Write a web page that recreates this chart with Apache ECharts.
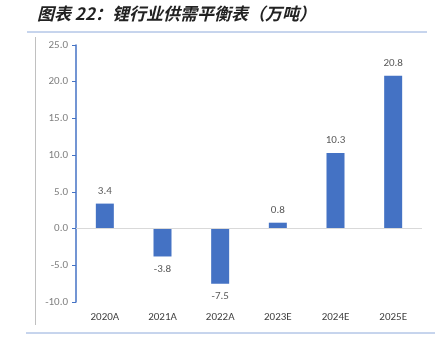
<!DOCTYPE html>
<html>
<head>
<meta charset="utf-8">
<script src="https://cdn.jsdelivr.net/npm/echarts@6/dist/echarts.min.js"></script>
<style>
  html, body { margin: 0; padding: 0; background: #fff; }
  #main { width: 435px; height: 353px; }
</style>
</head>
<body>
<div id="main"></div>
<script>
// 数据
var years = ['2020A', '2021A', '2022A', '2023E', '2024E', '2025E'];
var balance = [3.4, -3.8, -7.5, 0.8, 10.3, 20.8];
var yTicks = [-10, -5, 0, 5, 10, 15, 20, 25];

var chart = echarts.init(document.getElementById('main'));

var option = {
    animation: false,
    textStyle: { fontFamily: 'Calibri, "Liberation Sans", "Noto Sans CJK SC", sans-serif' },
    grid: { left: 76, right: 13, top: 45, bottom: 51 },
    graphic: [
        {
            type: 'text', left: 37, top: 5,
            style: {
                text: '图表 22：锂行业供需平衡表（万吨）',
                font: 'italic bold 17px "Noto Sans CJK SC", sans-serif',
                fill: '#222'
            }
        },
        { type: 'line', shape: { x1: 27, y1: 32, x2: 427, y2: 32 }, style: { stroke: '#8eaadb', lineWidth: 1 } },
        { type: 'line', shape: { x1: 35.5, y1: 37, x2: 35.5, y2: 325 }, style: { stroke: '#c0c0c0', lineWidth: 1 } },
        { type: 'line', shape: { x1: 26, y1: 333, x2: 435, y2: 333 }, style: { stroke: '#8eaadb', lineWidth: 1 } }
    ],
    xAxis: {
        type: 'category',
        data: years,
        position: 'bottom',
        axisLine: { show: false, onZero: false },
        axisTick: { show: false },
        axisLabel: { color: '#404040', fontSize: 11, margin: 10 }
    },
    yAxis: {
        type: 'value',
        min: yTicks[0],
        max: yTicks[yTicks.length - 1],
        interval: 5,
        axisLine: { show: true, lineStyle: { color: '#4472c4', width: 1.5 } },
        axisTick: { show: true, length: 4, lineStyle: { color: '#4472c4' } },
        splitLine: { show: false },
        axisLabel: {
            color: '#7f7f7f', fontSize: 11, margin: 8,
            formatter: function (v) { return v.toFixed(1); }
        }
    },
    series: [
        {
            type: 'bar',
            barWidth: 18,
            itemStyle: { color: '#4472c4' },
            label: {
                show: true,
                color: '#595959',
                fontSize: 11,
                distance: 7,
                formatter: function (p) { return p.value.toFixed(1); }
            },
            markLine: {
                silent: true,
                symbol: 'none',
                label: { show: false },
                lineStyle: { color: '#d9d9d9', type: 'solid', width: 1 },
                data: [{ yAxis: 0 }]
            },
            // 负值标签放在柱子下方
            data: balance.map(function (v) {
                return { value: v, label: { position: v < 0 ? 'bottom' : 'top' } };
            })
        }
    ]
};

chart.setOption(option);
</script>
</body>
</html>
